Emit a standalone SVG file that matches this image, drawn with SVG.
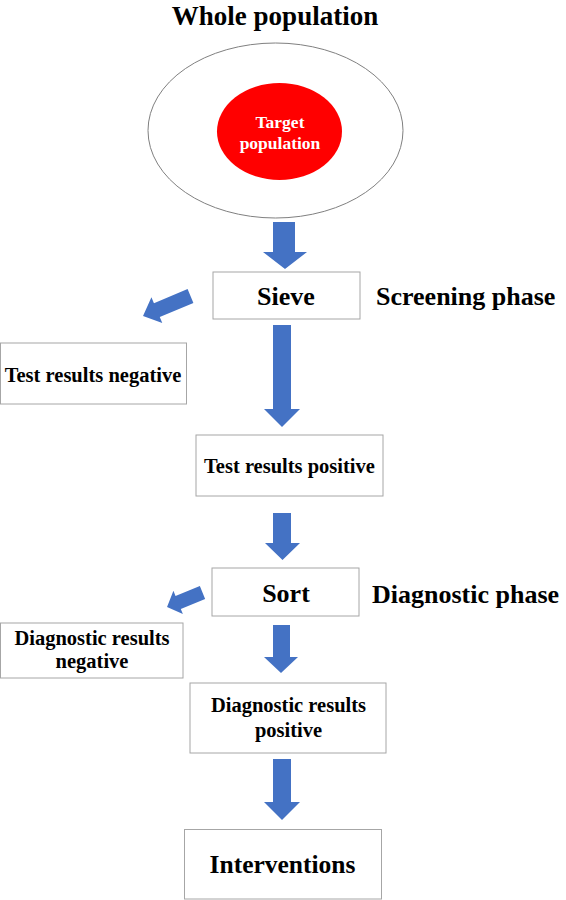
<svg xmlns="http://www.w3.org/2000/svg" width="566" height="900" viewBox="0 0 566 900">
  <style>
    .t { font-family: "Liberation Serif", "Times New Roman", serif; font-weight: bold; fill: #000; text-anchor: middle; }
    .box { fill: #fff; stroke: #A6A6A6; stroke-width: 1; }
    .arrow { fill: #4472C4; stroke: none; }
    .big { font-size: 26px; }
    .mid { font-size: 20.5px; }
  </style>
  <rect width="566" height="900" fill="#fff"/>

  <g id="title">
    <text class="t" x="275" y="25" font-size="27">Whole population</text>
  </g>

  <g id="whole-population">
    <ellipse cx="275.5" cy="130.5" rx="127.5" ry="87.5" fill="#fff" stroke="#808080" stroke-width="1"/>
  </g>

  <g id="target-population">
    <ellipse cx="279.5" cy="131.5" rx="62.5" ry="48.5" fill="#FF0000"/>
    <text class="t" x="280" y="128" font-size="17.5" fill="#fff" style="fill:#fff">Target</text>
    <text class="t" x="280" y="149" font-size="17.5" style="fill:#fff">population</text>
  </g>

  <g id="sieve">
    <rect class="box" x="213" y="272" width="147" height="47"/>
    <text class="t big" x="286" y="305">Sieve</text>
  </g>

  <g id="screening-phase">
    <text class="t big" x="376" y="305" style="text-anchor:start">Screening phase</text>
  </g>

  <g id="test-negative">
    <rect class="box" x="0.5" y="343" width="186" height="61"/>
    <text class="t mid" x="93" y="382">Test results negative</text>
  </g>

  <g id="test-positive">
    <rect class="box" x="196" y="435" width="187" height="61"/>
    <text class="t mid" x="289.5" y="473">Test results positive</text>
  </g>

  <g id="sort">
    <rect class="box" x="212" y="568" width="147" height="48"/>
    <text class="t big" x="286" y="602">Sort</text>
  </g>

  <g id="diagnostic-phase">
    <text class="t big" x="372" y="603" style="text-anchor:start">Diagnostic phase</text>
  </g>

  <g id="diagnostic-negative">
    <rect class="box" x="0.5" y="623" width="182.5" height="55"/>
    <text class="t mid" x="92" y="645">Diagnostic results</text>
    <text class="t mid" x="92" y="668">negative</text>
  </g>

  <g id="diagnostic-positive">
    <rect class="box" x="190" y="683" width="196" height="70"/>
    <text class="t mid" x="288.5" y="712">Diagnostic results</text>
    <text class="t mid" x="288.5" y="737">positive</text>
  </g>

  <g id="interventions">
    <rect class="box" x="184.5" y="829.5" width="197" height="69.5"/>
    <text class="t" x="282.5" y="873" font-size="25.5">Interventions</text>
  </g>

  <g id="connectors">
    <path class="arrow" d="M273,222 H295 V252 H307 L285,269 L263,252 H273 Z"/>
    <path class="arrow" d="M273,325 H291 V409 H300 L282,427 L264,409 H273 Z"/>
    <path class="arrow" d="M273,513 H291 V543 H300 L282.5,560 L265,543 H273 Z"/>
    <path class="arrow" d="M273,625 H290 V657 H298 L281,673 L264,657 H273 Z"/>
    <path class="arrow" d="M273,759 H291 V802 H300 L282,820 L264,802 H273 Z"/>
    <path class="arrow" transform="translate(190.5,296) rotate(157.2)" d="M0,-7.5 L36.5,-7.5 L36.5,-14 L51.5,0 L36.5,14 L36.5,7.5 L0,7.5 Z"/>
    <path class="arrow" transform="translate(202.5,592.5) rotate(157.8)" d="M0,-7 L26.3,-7 L26.3,-12.5 L38.3,0 L26.3,12.5 L26.3,7 L0,7 Z"/>
  </g>
</svg>
